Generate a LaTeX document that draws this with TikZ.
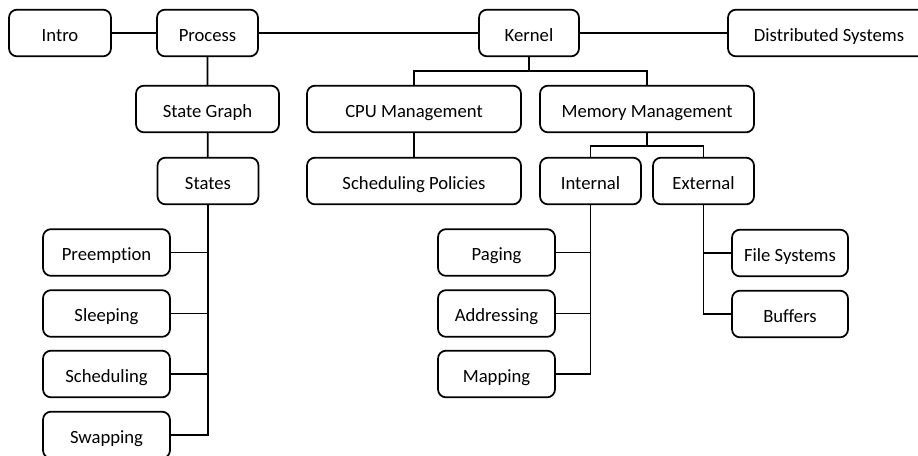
\documentclass[tikz,border=0pt]{standalone}
\usepackage{fontspec}
\setmainfont{Carlito}[Ligatures=NoCommon]
\usetikzlibrary{positioning}

\tikzset{
	topic/.style={draw, rounded corners=6pt, line width=1.3pt, minimum height=35pt, inner sep=0pt, text height=12pt, text depth=0pt, font=\fontsize{14}{16}\selectfont},
	link/.style={line width=1.3pt}
}

\begin{document}
\begin{tikzpicture}[x=0.75pt, y=-0.75pt]
			\clip (0,0) rectangle (918,455);
			\fill[white] (0,0) rectangle (918,455);
			
			\node[topic, minimum width=76.5pt](intro) at (60,33) {Intro};
			\node[topic, minimum width=75.75pt](process) at (207.5,33) {Process};
			\node[topic, minimum width=75pt](kernel) at (529,33) {Kernel};
			\node[topic, minimum width=151.5pt](dist) at (829,33) {Distributed Systems};
			
			\node[topic, minimum width=107.25pt](graph) at (207.5,109) {State Graph};
			\node[topic, minimum width=160.5pt](cpu) at (414,109) {CPU Management};
			\node[topic, minimum width=160.5pt](mem) at (647,109) {Memory Management};
			
			\node[topic, minimum width=75.75pt](states) at (208,181) {States};
			\node[topic, minimum width=160.5pt](policies) at (414,181) {Scheduling Policies};
			\node[topic, minimum width=75.75pt](internal) at (590.5,181) {Internal};
			\node[topic, minimum width=75.75pt](external) at (703.5,181) {External};
			
			\node[topic, minimum width=95.25pt](preempt) at (106.5,252.5) {Preemption};
			\node[topic, minimum width=95.25pt](sleep) at (106.5,313.5) {Sleeping};
			\node[topic, minimum width=95.25pt](sched) at (106.5,374) {Scheduling};
			\node[topic, minimum width=95.25pt](swap) at (106.5,435) {Swapping};
			
			\node[topic, minimum width=87.75pt](paging) at (496.5,252.5) {Paging};
			\node[topic, minimum width=87.75pt](addr) at (496.5,313.5) {Addressing};
			\node[topic, minimum width=87.75pt](mapping) at (496.5,374) {Mapping};
			
			\node[topic, minimum width=87pt](files) at (790,253) {File Systems};
			\node[topic, minimum width=87pt](buffers) at (790,314) {Buffers};
			
			\draw[link] (intro) -- (process) -- (kernel) -- (dist);
			\draw[link] (process) -- (graph) -- (states);
			\draw[link] (cpu) -- (policies);
			
			\draw[link] (kernel.south) -- ++(0,14) -| (cpu.north);
			\draw[link] (kernel.south) -- ++(0,14) -| (mem.north);
			\draw[link] (mem.south) -- ++(0,12.5) -| (internal.north);
			\draw[link] (mem.south) -- ++(0,12.5) -| (external.north);
			
			\draw[link] (states.south) |- (swap.east);
			\draw[link] (preempt.east) -| (states.south);
			\draw[link] (sleep.east) -| (states.south);
			\draw[link] (sched.east) -| (states.south);
			
			\draw[link] (internal.south) |- (mapping.east);
			\draw[link] (paging.east) -| (internal.south);
			\draw[link] (addr.east) -| (internal.south);
			
			\draw[link] (external.south) |- (buffers.west);
			\draw[link] (files.west) -| (external.south);
		\end{tikzpicture}
\end{document}
